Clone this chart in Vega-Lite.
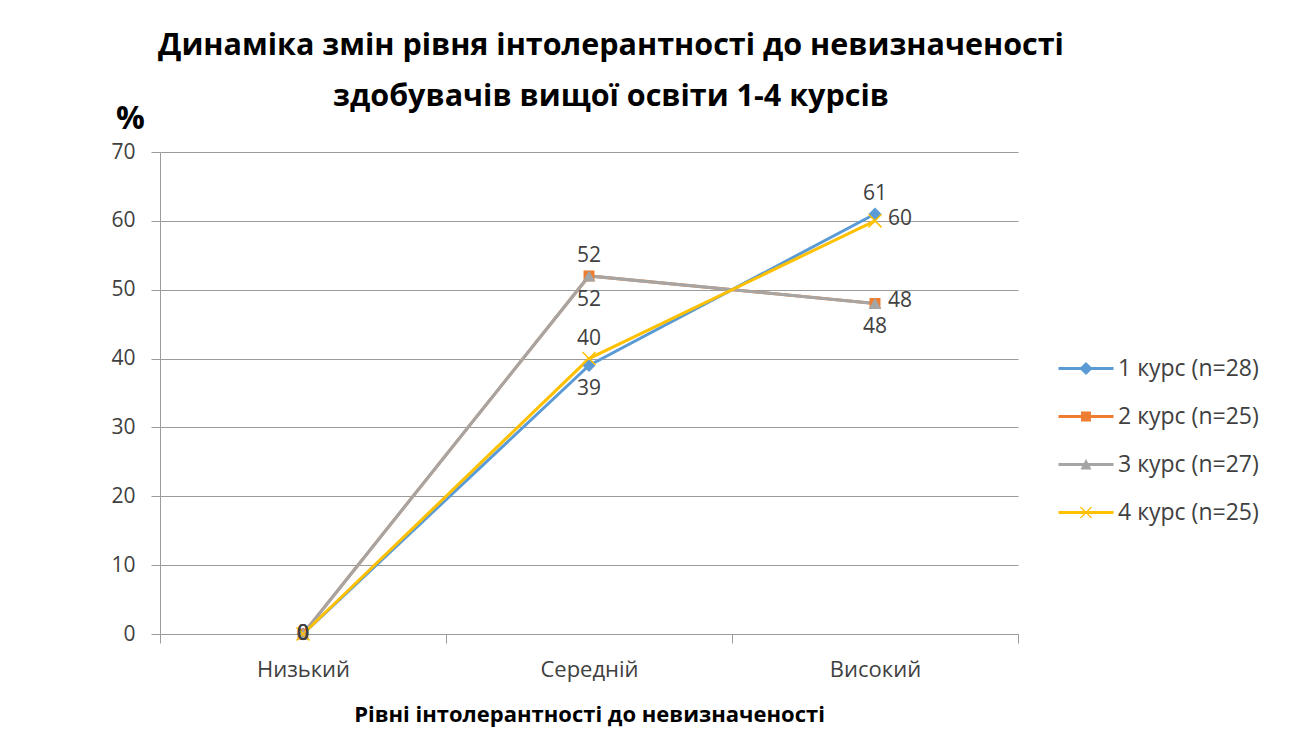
{
  "$schema": "https://vega.github.io/schema/vega-lite/v6.json",
  "width": 858,
  "height": 482,
  "autosize": {"type": "none"},
  "padding": {"left": 160, "top": 152, "right": 271, "bottom": 115},
  "background": "white",
  "title": {
    "text": ["Динаміка змін рівня інтолерантності до невизначеності", "здобувачів вищої освіти 1-4 курсів"],
    "font": "Open Sans",
    "fontSize": 30.5,
    "fontWeight": "bold",
    "color": "#000000",
    "lineHeight": 51,
    "anchor": "middle",
    "dx": 22,
    "baseline": "top",
    "offset": -10
  },
  "data": {
    "values": [
      {"level": "Низький", "series": "1 курс (n=28)", "value": 0},
      {"level": "Середній", "series": "1 курс (n=28)", "value": 39},
      {"level": "Високий", "series": "1 курс (n=28)", "value": 61},
      {"level": "Низький", "series": "2 курс (n=25)", "value": 0},
      {"level": "Середній", "series": "2 курс (n=25)", "value": 52},
      {"level": "Високий", "series": "2 курс (n=25)", "value": 48},
      {"level": "Низький", "series": "3 курс (n=27)", "value": 0},
      {"level": "Середній", "series": "3 курс (n=27)", "value": 52},
      {"level": "Високий", "series": "3 курс (n=27)", "value": 48},
      {"level": "Низький", "series": "4 курс (n=25)", "value": 0},
      {"level": "Середній", "series": "4 курс (n=25)", "value": 40},
      {"level": "Високий", "series": "4 курс (n=25)", "value": 60}
    ]
  },
  "encoding": {
    "x": {
      "field": "level",
      "type": "nominal",
      "sort": ["Низький", "Середній", "Високий"],
      "scale": {"type": "band", "domain": ["Низький", "Середній", "Високий"], "paddingInner": 0, "paddingOuter": 0},
      "axis": {
        "title": "Рівні інтолерантності до невизначеності",
        "titleFont": "Open Sans",
        "titleFontSize": 22,
        "titleFontWeight": "bold",
        "titleColor": "#000000",
        "titleBaseline": "alphabetic",
        "titleY": 87,
        "labelAngle": 0,
        "labelFont": "Open Sans",
        "labelFontSize": 22,
        "labelColor": "#404040",
        "labelBaseline": "alphabetic",
        "labelPadding": 33,
        "tickBand": "extent",
        "tickSize": 9,
        "tickColor": "#9B9B9B",
        "domainColor": "#9B9B9B",
        "grid": false
      }
    },
    "y": {
      "field": "value",
      "type": "quantitative",
      "scale": {"domain": [0, 70], "nice": false},
      "axis": {
        "values": [0, 10, 20, 30, 40, 50, 60, 70],
        "title": "%",
        "titleFont": "Open Sans",
        "titleFontSize": 32,
        "titleFontWeight": "bold",
        "titleColor": "#000000",
        "titleAngle": 0,
        "titleAlign": "center",
        "titleBaseline": "alphabetic",
        "titleX": -30,
        "titleY": -24,
        "labelFont": "Open Sans",
        "labelFontSize": 21,
        "labelColor": "#404040",
        "labelPadding": 16,
        "tickSize": 9,
        "tickColor": "#9B9B9B",
        "domainColor": "#9B9B9B",
        "grid": true,
        "gridColor": "#9B9B9B",
        "gridWidth": 1
      }
    }
  },
  "layer": [
    {
      "mark": {"type": "line", "strokeWidth": 3},
      "encoding": {
        "color": {
          "field": "series",
          "type": "nominal",
          "scale": {"range": ["#5B9BD5", "#ED7D31", "#A5A5A5", "#FFC000"]},
          "legend": null
        }
      }
    },
    {
      "transform": [{"filter": "datum.series == '1 курс (n=28)'"}],
      "mark": {"type": "point", "shape": "diamond", "filled": true, "opacity": 1, "size": 170},
      "encoding": {"color": {"field": "series", "type": "nominal", "legend": null}}
    },
    {
      "transform": [{"filter": "datum.series == '2 курс (n=25)'"}],
      "mark": {"type": "point", "shape": "square", "filled": true, "opacity": 1, "size": 120},
      "encoding": {"color": {"field": "series", "type": "nominal", "legend": null}}
    },
    {
      "transform": [{"filter": "datum.series == '3 курс (n=27)'"}],
      "mark": {"type": "point", "shape": "triangle-up", "filled": true, "opacity": 1, "size": 160},
      "encoding": {"color": {"field": "series", "type": "nominal", "legend": null}}
    },
    {
      "transform": [{"filter": "datum.series == '4 курс (n=25)'"}],
      "mark": {"type": "point", "shape": "M-1,-1L1,1M1,-1L-1,1", "filled": false, "opacity": 1, "size": 170, "strokeWidth": 1.5},
      "encoding": {"color": {"field": "series", "type": "nominal", "legend": null}}
    },
    {
      "transform": [{"filter": "datum.level == 'Низький'"}],
      "mark": {"type": "text", "font": "Open Sans", "fontSize": 21, "color": "#404040", "align": "center", "baseline": "middle"},
      "encoding": {"text": {"field": "value", "type": "quantitative"}}
    },
    {
      "transform": [{"filter": "(datum.series == '1 курс (n=28)' && datum.level == 'Високий') || (datum.series == '2 курс (n=25)' && datum.level == 'Середній') || (datum.series == '4 курс (n=25)' && datum.level == 'Середній')"}],
      "mark": {"type": "text", "font": "Open Sans", "fontSize": 21, "color": "#404040", "align": "center", "baseline": "middle", "dy": -20},
      "encoding": {"text": {"field": "value", "type": "quantitative"}}
    },
    {
      "transform": [{"filter": "(datum.series == '1 курс (n=28)' && datum.level == 'Середній') || (datum.series == '3 курс (n=27)' && datum.level == 'Середній') || (datum.series == '3 курс (n=27)' && datum.level == 'Високий')"}],
      "mark": {"type": "text", "font": "Open Sans", "fontSize": 21, "color": "#404040", "align": "center", "baseline": "middle", "dy": 24},
      "encoding": {"text": {"field": "value", "type": "quantitative"}}
    },
    {
      "transform": [{"filter": "(datum.series == '2 курс (n=25)' && datum.level == 'Високий') || (datum.series == '4 курс (n=25)' && datum.level == 'Високий')"}],
      "mark": {"type": "text", "font": "Open Sans", "fontSize": 21, "color": "#404040", "align": "left", "baseline": "middle", "dx": 13, "dy": -2},
      "encoding": {"text": {"field": "value", "type": "quantitative"}}
    },
    {
      "transform": [{"filter": "false"}],
      "mark": {"type": "point", "filled": true, "opacity": 1, "size": 484},
      "encoding": {
        "fill": {
          "field": "series",
          "type": "nominal",
          "scale": {"domain": ["1 курс (n=28)", "2 курс (n=25)", "3 курс (n=27)", "4 курс (n=25)"], "range": ["#5B9BD5", "#ED7D31", "#A5A5A5", "#FFC000"]},
          "legend": {
            "title": null,
            "orient": "none",
            "legendX": 914.5,
            "legendY": 205,
            "padding": 0,
            "offset": 0,
            "symbolSize": 484,
            "symbolStrokeWidth": 0,
            "symbolOpacity": 1,
            "labelFont": "Open Sans",
            "labelFontSize": 23,
            "labelColor": "#404040",
            "labelOffset": 20.5,
            "labelLimit": 300,
            "rowPadding": 24
          }
        },
        "shape": {
          "field": "series",
          "type": "nominal",
          "scale": {
            "domain": ["1 курс (n=28)", "2 курс (n=25)", "3 курс (n=27)", "4 курс (n=25)"],
            "range": [
              "M-2.5,-0.136H2.5V0.136H-2.5ZM0,-0.6L0.6,0L0,0.6L-0.6,0Z",
              "M-2.5,-0.136H2.5V0.136H-2.5ZM-0.45,-0.45H0.45V0.45H-0.45Z",
              "M-2.5,-0.136H2.5V0.136H-2.5ZM0,-0.5L0.5,0.45H-0.5Z",
              "M-2.5,-0.136H2.5V0.136H-2.5ZM-0.54,-0.46L-0.46,-0.54L0.54,0.46L0.46,0.54ZM0.46,-0.54L0.54,-0.46L-0.46,0.54L-0.54,0.46Z"
            ]
          },
          "legend": {
            "title": null,
            "orient": "none",
            "legendX": 914.5,
            "legendY": 205,
            "padding": 0,
            "offset": 0,
            "symbolSize": 484,
            "symbolStrokeWidth": 0,
            "symbolOpacity": 1,
            "labelFont": "Open Sans",
            "labelFontSize": 23,
            "labelColor": "#404040",
            "labelOffset": 20.5,
            "labelLimit": 300,
            "rowPadding": 24
          }
        }
      }
    }
  ],
  "config": {
    "view": {"stroke": null}
  }
}
